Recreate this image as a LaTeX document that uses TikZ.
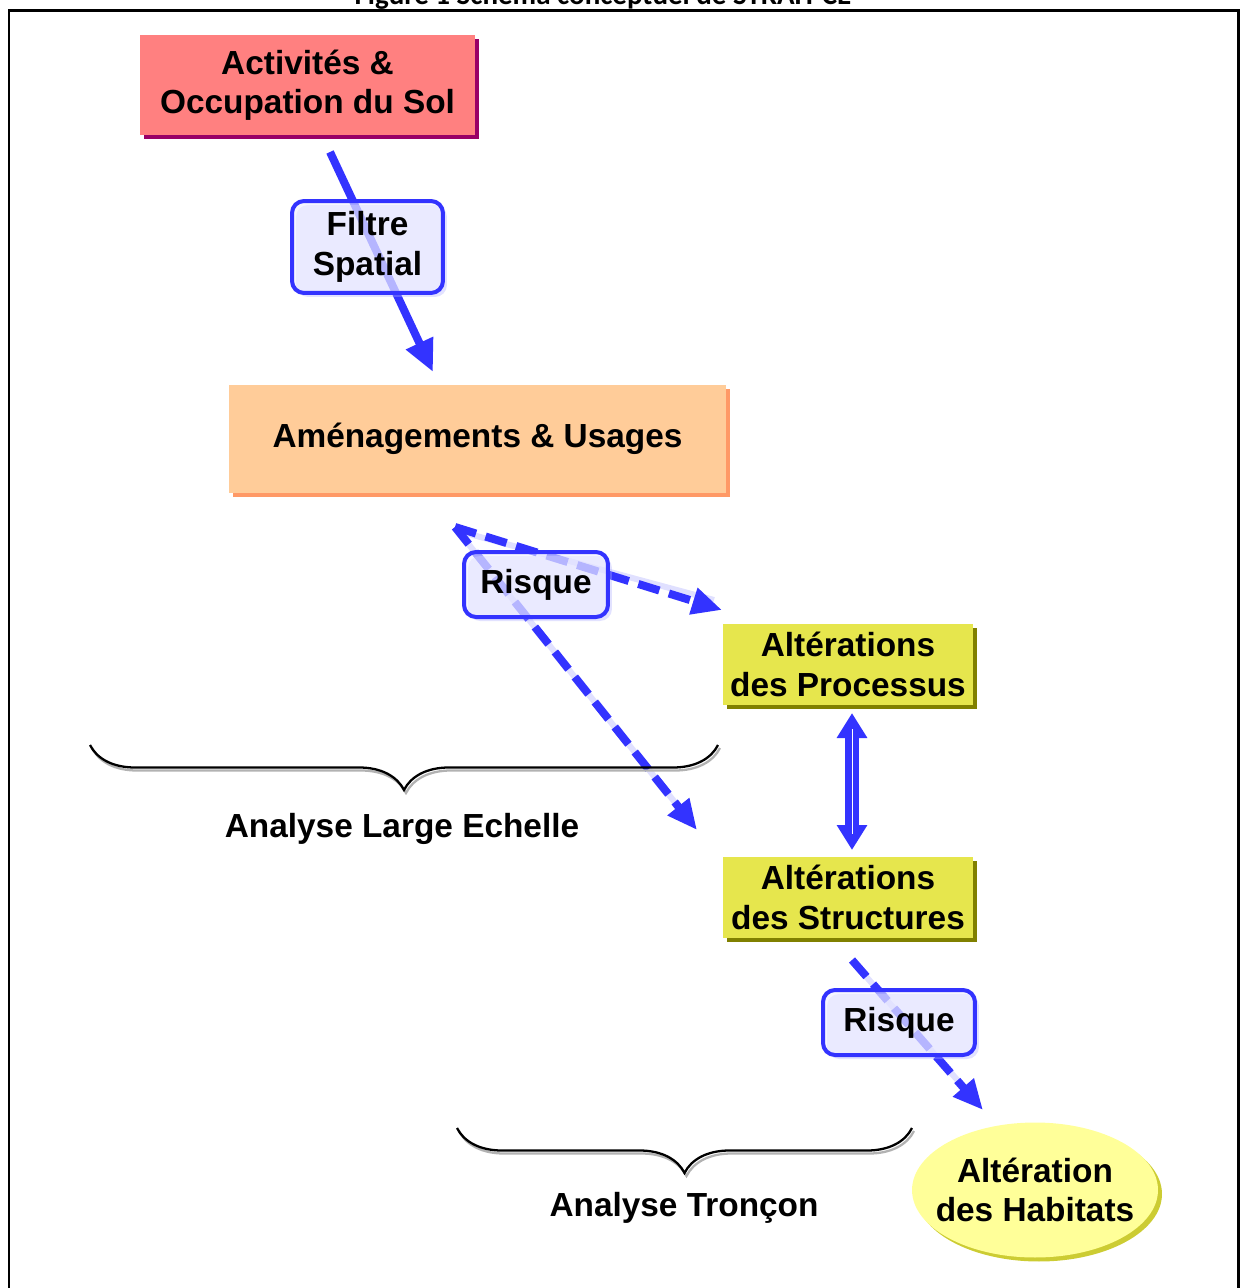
\documentclass[tikz,border=0pt]{standalone}
\usepackage{fontspec}
\setmainfont{Liberation Sans}
\newfontfamily\titlefont{Carlito}
\usetikzlibrary{arrows.meta,shapes.geometric,shadows,decorations.pathreplacing,positioning}

\definecolor{arrowblue}{HTML}{3333FF}
\definecolor{redfill}{HTML}{FF8080}
\definecolor{redshade}{HTML}{990066}
\definecolor{orangefill}{HTML}{FFCC99}
\definecolor{orangeshade}{HTML}{FF9966}
\definecolor{yellowfill}{HTML}{E6E64D}
\definecolor{yellowshade}{HTML}{808000}
\definecolor{habfill}{HTML}{FFFF99}
\definecolor{habshade}{HTML}{CCCC33}
\definecolor{riskfill}{HTML}{F0F0FF}

\begin{document}
\begin{tikzpicture}[x=0.02cm, y=-0.02cm,
  lbl/.style={font=\fontsize{19}{22.5}\selectfont\bfseries, align=center, inner sep=0pt},
  shade/.style={drop shadow={shadow xshift=0.08cm, shadow yshift=-0.08cm, fill=#1, opacity=1}},
  redbox/.style={lbl, fill=redfill, minimum width=6.7cm, minimum height=2cm, shade=redshade},
  orangebox/.style={lbl, fill=orangefill, minimum width=9.94cm, minimum height=2.16cm, shade=orangeshade},
  yellowbox/.style={lbl, fill=yellowfill, minimum width=5cm, minimum height=1.62cm, shade=yellowshade},
  habitat/.style={lbl, ellipse, inner xsep=-0.27cm, inner ysep=0pt, fill=habfill,
    minimum width=4.92cm, minimum height=2.7cm, shade=habshade},
  filterbox/.style={lbl, draw=arrowblue, line width=0.08cm, rounded corners=0.24cm, fill=riskfill,
    fill opacity=0.6, text opacity=1,
    drop shadow={shadow xshift=0.08cm, shadow yshift=-0.08cm, fill=arrowblue!40, opacity=0.35}},
  arr/.style={-{Triangle[length=0.64cm, width=0.56cm]}, line width=0.16cm, draw=arrowblue},
  darr/.style={-{Triangle[length=0.6cm, width=0.52cm]}, line width=0.16cm, draw=arrowblue,
    dash pattern=on 0.44cm off 0.2cm},
  halo/.style={line width=0.12cm, draw=arrowblue!15},
  dbl/.style={{Triangle[length=0.5cm, width=0.58cm]}-{Triangle[length=0.5cm, width=0.58cm]},
    line width=0.28cm, draw=arrowblue},
  curly/.style={decorate, decoration={brace, mirror, amplitude=0.9cm}, line width=1.3pt}
]
\useasboundingbox (0,0) rectangle (1240,1288);

% frame and title
\draw[line width=0.05cm] (9,1300) -- (9,10.5) -- (1238.5,10.5) -- (1238.5,1300);
\node[font=\titlefont\bfseries\fontsize{16.5}{19}\selectfont, anchor=base] (title) at (603,5)
  {Figure 1 Schéma conceptuel de STRAH-CE};

% arrows first, boxes drawn over them
\coordinate (f1) at (330,152);
\coordinate (f2) at (433,372);
\coordinate (r1) at (455,527);
\coordinate (p1) at (722,610);
\coordinate (s1) at (697,830);
\coordinate (r2) at (852,960);
\coordinate (h1) at (983,1110);
\coordinate (pa) at (852,713);
\coordinate (pb) at (852,850);

\foreach \a/\b in {r1/p1, r1/s1, r2/h1}
  \draw[halo] ([shift={(3,4)}]\a) -- ([shift={(-8,-10)}]\b);
\draw[arr] (f1) -- (f2);
\draw[darr] (r1) -- (p1);
\draw[darr] (r1) -- (s1);
\draw[darr] (r2) -- (h1);
\draw[dbl] (pa) -- (pb);
\draw[white, line width=0.5pt, shorten <=0.32cm, shorten >=0.32cm] (pa) -- (pb);

\node[redbox] (act) at (307.5,85) {Activités \&\\Occupation du Sol};
\node[filterbox, minimum width=3.02cm, minimum height=1.84cm] (filtre) at (367.5,247) {Filtre\\Spatial};
\node[orangebox] (amen) at (477.5,439) {Aménagements \& Usages};
\node[filterbox, minimum width=2.88cm, minimum height=1.3cm] (risque1) at (536,584.5) {Risque};
\node[yellowbox] (proc) at (848,664.5) {Altérations\\des Processus};
\node[yellowbox] (struct) at (848,897.5) {Altérations\\des Structures};
\node[filterbox, minimum width=3.04cm, minimum height=1.3cm] (risque2) at (899,1022.5) {Risque};
\node[habitat] (hab) at (1035,1190) {Altération\\des Habitats};

% braces
\draw[curly, gray!60] (92,748) -- (720,748);
\draw[curly] (90,745) -- (718,745);
\node[lbl] (large) at (402,829) {Analyse Large Echelle};
\draw[curly, gray!60] (459,1131) -- (914,1131);
\draw[curly] (457,1128) -- (912,1128);
\node[lbl] (troncon) at (684,1208) {Analyse Tronçon};
\end{tikzpicture}
\end{document}
